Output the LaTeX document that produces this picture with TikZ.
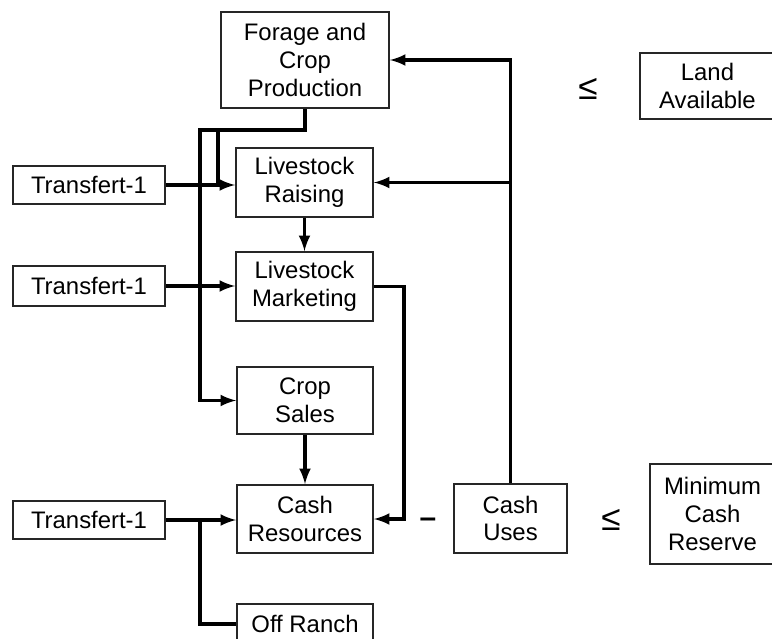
\documentclass[tikz,border=0pt]{standalone}
\usepackage{fontspec}
\usepackage{amsmath}
\usepackage{amssymb}
\setmainfont{Liberation Sans}
\usetikzlibrary{shapes.misc, arrows, positioning, calc}
\tikzset{
  block/.style={rectangle,draw=black!85,line width=1.1pt,fill=white,inner sep=0pt,align=center,
    font=\fontsize{13.6}{15.7}\selectfont,minimum width=136\unitpx,minimum height=68\unitpx},
  block_t/.style={block,minimum width=152\unitpx,minimum height=38\unitpx},
  block_r/.style={block,minimum width=135\unitpx},
  flow/.style={line width=2pt,-latex,black},
  feed/.style={line width=2pt,black},
  relsign/.style={inner sep=0pt,font=\fontsize{20}{22}\selectfont},
}
\newcommand{\unitpx}{*0.02cm}
\begin{document}
\begin{tikzpicture}[x=0.02cm,y=-0.02cm]
	    \useasboundingbox (0,0) rectangle (772,639);
	    % main column
	    \node[block,minimum width=168\unitpx,minimum height=96\unitpx] (forage) at (305,60) {Forage and\\Crop\\Production};
	    \node[block,minimum width=137\unitpx,minimum height=69\unitpx] (raising) at (304.5,182.5) {Livestock\\Raising};
	    \node[block,minimum width=137\unitpx,minimum height=69\unitpx] (marketing) at (304.5,286.5) {Livestock\\Marketing};
	    \node[block,minimum height=67\unitpx] (sales) at (305,400.5) {Crop\\Sales};
	    \node[block] (resources) at (305,519) {Cash\\Resources};
	    \node[block,minimum height=40\unitpx] (offranch) at (305,624) {Off Ranch};
	    % transfers
	    \node[block_t] (trans1) at (89,185) {Transfert-1};
	    \node[block_t,minimum height=40\unitpx] (trans2) at (89,286) {Transfert-1};
	    \node[block_t] (trans3) at (89,520) {Transfert-1};
	    % right side
	    \node[block,minimum width=113\unitpx,minimum height=69\unitpx] (uses) at (510.5,518.5) {Cash\\Uses};
	    \node[block_r,minimum height=66\unitpx] (land) at (707.5,86) {Land\\Available};
	    \node[block_r,minimum width=125\unitpx,minimum height=100\unitpx] (reserve) at (712.5,514) {Minimum\\Cash\\Reserve};
	    \node[relsign] (le1) at (588,89) {≤};
	    \node[relsign] (le2) at (611,520) {≤};
	    \node[relsign,font=\fontsize{17}{18}\selectfont\bfseries] (minus) at (428,523) {–};
	    \coordinate (bus) at (200,130);
	    \coordinate (feedin) at (218,130);
	    % connectors
	    \draw[flow] (uses.north) |- (forage.east);
	    \draw[flow] (uses.north |- raising.east) -- (raising.east);
	    \draw[flow] (forage.south) |- (bus) |- (sales.west);
	    \draw[feed] (feedin) -- (feedin |- raising.west);
	    \draw[flow] (trans1) -- (trans1 -| raising.west);
	    \draw[flow] (trans2) -- (trans2 -| marketing.west);
	    \draw[flow] (raising) -- (marketing);
	    \draw[flow] (sales) -- (resources);
	    \draw[flow] (marketing.east) -- ++(30,0) |- (resources.east);
	    \draw[flow] (trans3) -- (trans3 -| resources.west);
	    \draw[feed] (bus |- trans3.east) |- (offranch.west);
	\end{tikzpicture}
\end{document}
